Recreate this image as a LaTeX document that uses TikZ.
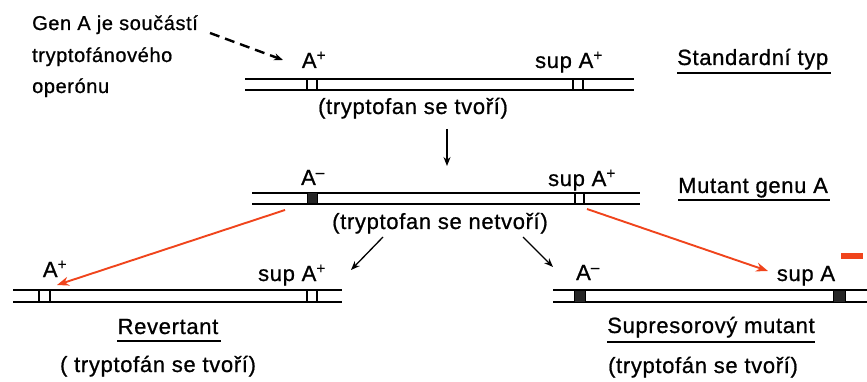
\documentclass[tikz,border=0pt]{standalone}
\usepackage{fontspec}
\setmainfont{Liberation Sans}[LetterSpace=3,FakeBold=0.8]
\usetikzlibrary{arrows.meta}
\definecolor{redarrow}{RGB}{240,68,28}
\begin{document}
\begin{tikzpicture}[x=1pt,y=-1pt,
  strand/.style={line width=1.7pt,black},
  txt/.style={inner sep=0pt,anchor=base,font=\fontsize{22}{26}\selectfont},
  wtxt/.style={inner sep=0pt,anchor=base west,font=\fontsize{22}{26}\selectfont},
  ltxt/.style={inner sep=0pt,anchor=base west,font=\fontsize{20}{24}\selectfont},
  blackarrow/.style={line width=1.3pt,-{Stealth[length=9pt,width=7pt]}},
  redarr/.style={line width=1.9pt,redarrow,-{Stealth[length=12pt,width=9pt]}},
  dasharrow/.style={line width=2.4pt,dash pattern=on 10pt off 6pt,-{Stealth[length=9pt,width=7pt]}},
  openbox/.style={draw,line width=1.1pt,fill=white},
  filledbox/.style={draw,line width=1pt,fill=black!85},
  uline/.style={line width=1.8pt}]
\useasboundingbox (0,0) rectangle (867,382);
\fill[white] (0,0) rectangle (867,382);

% ---------- left annotation ----------
\node[ltxt] (g1) at (32,30) {Gen A je součástí};
\node[ltxt] (g2) at (32,62) {tryptofánového};
\node[ltxt] (g3) at (32,93) {operónu};
\coordinate (dstart) at (210,33);
\coordinate (dend) at (283,60);
\draw[dasharrow] (dstart) -- (dend);

% ---------- top: standard type ----------
\coordinate (t1l) at (245,79); \coordinate (t1r) at (634,79);
\coordinate (t2l) at (245,90); \coordinate (t2r) at (634,90);
\draw[strand] (t1l) -- (t1r);
\draw[strand] (t2l) -- (t2r);
\draw[openbox] (307,79) rectangle (317,90);
\draw[openbox] (573,79) rectangle (583,90);
\node[txt] (tA) at (314,68) {A\textsuperscript{+}};
\node[txt] (tsup) at (569,68) {sup A\textsuperscript{+}};
\node[txt] (tnote) at (413,114) {(tryptofan se tvoří)};
\node[wtxt] (tstd) at (677,65) {Standardní typ};
\draw[uline] ([yshift=-8pt]tstd.base west) -- ([yshift=-8pt,xshift=3pt]tstd.base east);

% down arrow
\coordinate (dA) at (447,129);
\coordinate (dB) at (447,166);
\draw[blackarrow] (dA) -- (dB);

% ---------- middle: mutant ----------
\draw[strand] (252,193) -- (640,193);
\draw[strand] (252,204) -- (640,204);
\draw[filledbox] (307,193) rectangle (317,204);
\draw[openbox] (575,193) rectangle (584,204);
\node[txt] (mA) at (313,185) {A\textsuperscript{–}};
\node[txt] (msup) at (582,186) {sup A\textsuperscript{+}};
\node[txt] (mnote) at (440,229) {(tryptofan se netvoří)};
\node[wtxt] (mmut) at (678,193) {Mutant genu A};
\draw[uline] ([yshift=-7pt]mmut.base west) -- ([yshift=-7pt,xshift=2pt]mmut.base east);

% black arrows
\coordinate (la1) at (383,237); \coordinate (la2) at (351,270);
\coordinate (ra1) at (523,237); \coordinate (ra2) at (553,267);
\draw[blackarrow] (la1) -- (la2);
\draw[blackarrow] (ra1) -- (ra2);

% ---------- bottom left: revertant ----------
\draw[strand] (13,290) -- (342,290);
\draw[strand] (13,302) -- (342,302);
\draw[openbox] (39,290) rectangle (50,302);
\draw[openbox] (307,290) rectangle (317,302);
\node[txt] (bA) at (55,277) {A\textsuperscript{+}};
\node[txt] (bsup) at (292,281) {sup A\textsuperscript{+}};
\node[txt] (brev) at (168,334) {Revertant};
\draw[uline] ([yshift=-7pt]brev.base west) -- ([yshift=-7pt,xshift=2pt]brev.base east);
\node[txt] (bnote) at (158,372) {( tryptofán se tvoří)};

% ---------- bottom right: suppressor mutant ----------
\draw[strand] (553,290) -- (867,290);
\draw[strand] (553,302) -- (867,302);
\draw[filledbox] (574,290) rectangle (585,302);
\draw[filledbox] (833,290) rectangle (845,302);
\node[txt] (sA) at (588,280) {A\textsuperscript{–}};
\node[txt] (ssup) at (806,281) {sup A};
\fill[redarrow] (841,253) rectangle (863,259);
\node[txt] (smut) at (711,333) {Supresorový mutant};
\draw[uline] ([yshift=-9pt]smut.base west) -- ([yshift=-9pt]smut.base east);
\node[txt] (snote) at (703,373) {(tryptofán se tvoří)};

% red arrows
\coordinate (r1s) at (285,210); \coordinate (r1e) at (57,285);
\coordinate (r2s) at (587,209); \coordinate (r2e) at (768,271);
\draw[redarr] (r1s) -- (r1e);
\draw[redarr] (r2s) -- (r2e);
\end{tikzpicture}
\end{document}
